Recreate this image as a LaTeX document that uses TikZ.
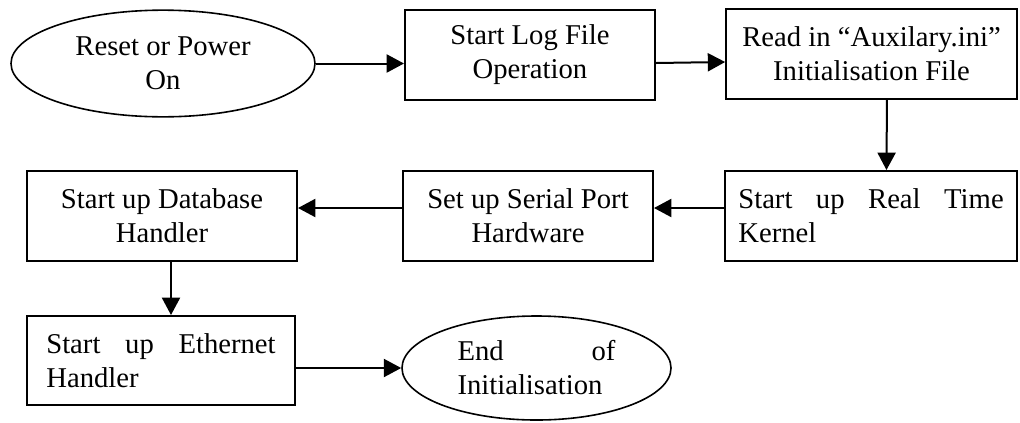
\documentclass[tikz,border=0pt]{standalone}
\usepackage{fontspec}
\setmainfont{Liberation Serif}
\usetikzlibrary{arrows.meta,shapes.geometric}
\tikzset{
  block/.style={draw, line width=1.5pt, minimum height=67.5pt, inner sep=0pt, align=center,
    font=\fontsize{21.5}{25.5}\selectfont},
  terminal/.style={block, ellipse, line width=1.2pt},
  flow/.style={-{Triangle[length=13pt,width=13.5pt]}, line width=1.5pt},
}
\begin{document}
\begin{tikzpicture}[x=0.75pt,y=-0.75pt]
        \useasboundingbox (0,0) rectangle (1020,422);
        \node[terminal, minimum width=228pt, minimum height=80pt]  (reset)    at (163,63.5)  {Reset or Power\\On};
        \node[block, minimum width=187.5pt]                        (logfile)  at (530,55)    {Start Log File\\Operation};
        \node[block, minimum width=218pt]                          (readini)  at (871.5,54)  {Read in “Auxilary.ini”\\Initialisation File};
        \node[block, minimum width=219pt, text width=199pt, align=justify] (kernel) at (871,216) {Start up Real Time\linebreak Kernel};
        \node[block, minimum width=187.5pt]                        (serial)   at (528,216)   {Set up Serial Port\\Hardware};
        \node[block, minimum width=202.5pt]                        (database) at (162,216)   {Start up Database\\Handler};
        \node[block, minimum width=201pt, minimum height=66.75pt, text width=172pt, align=justify] (ethernet) at (161,360.5) {Start up Ethernet\linebreak Handler};
        \node[terminal, minimum width=201.75pt, minimum height=78pt, text width=118.5pt, align=justify] (endinit) at (536.5,368) {End of\linebreak Initialisation};
        \draw[flow] (reset.east) -- (reset.east -| logfile.west);
        \draw[flow] ([yshift=-6pt]logfile.east) -- ([yshift=-6pt]readini.west);
        \draw[flow] ([xshift=11.6pt]readini.south) -- ([xshift=11.6pt]kernel.north);
        \draw[flow] ([yshift=6pt]kernel.west) -- ([yshift=6pt]serial.east);
        \draw[flow] ([yshift=6pt]serial.west) -- ([yshift=6pt]database.east);
        \draw[flow] ([xshift=6.75pt]database.south) -- ([xshift=6.75pt]database.south |- ethernet.north);
        \draw[flow] (ethernet.east |- endinit.west) -- (endinit.west);
\end{tikzpicture}
\end{document}
